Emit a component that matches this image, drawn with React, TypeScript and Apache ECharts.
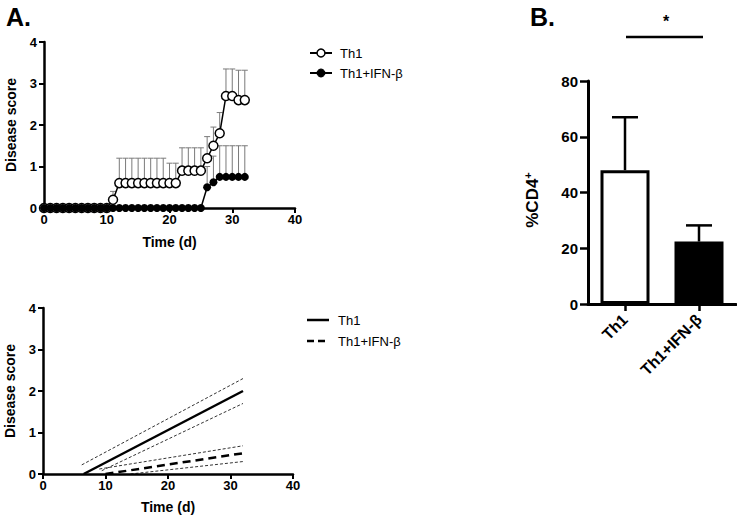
import React, { useEffect, useRef } from "react";
import * as echarts from "echarts";

const FONT = "'Liberation Sans', Arial, sans-serif";

// Panel A (top): daily disease score, days 0..32
const days = Array.from({ length: 33 }, (_, i) => i);
const th1Mean = [0, 0, 0, 0, 0, 0, 0, 0, 0, 0, 0, 0.2, 0.6, 0.6, 0.6, 0.6, 0.6, 0.6, 0.6, 0.6, 0.6, 0.6, 0.9, 0.9, 0.9, 0.9, 1.2, 1.5, 1.8, 2.7, 2.7, 2.6, 2.6];
const th1Upper = [0, 0, 0, 0, 0, 0, 0, 0, 0, 0, 0, 0.4, 1.2, 1.2, 1.2, 1.2, 1.2, 1.2, 1.2, 1.2, 1.08, 1.08, 1.45, 1.45, 1.45, 1.45, 1.72, 1.95, 2.3, 3.35, 3.35, 3.32, 3.32];
const ifnMean = [0, 0, 0, 0, 0, 0, 0, 0, 0, 0, 0, 0, 0, 0, 0, 0, 0, 0, 0, 0, 0, 0, 0, 0, 0, 0, 0.5, 0.62, 0.75, 0.75, 0.75, 0.75, 0.75];
const ifnUpper = [0, 0, 0, 0, 0, 0, 0, 0, 0, 0, 0, 0, 0, 0, 0, 0, 0, 0, 0, 0, 0, 0, 0, 0, 0, 0, 1.0, 1.25, 1.5, 1.5, 1.5, 1.5, 1.5];

// Panel A (bottom): regression lines with confidence bands [day, score]
const th1Fit = [[6.5, 0], [32, 2.0]];
const th1CiUpper = [[6.2, 0.22], [32, 2.3]];
const th1CiLower = [[9.4, 0.08], [32, 1.7]];
const ifnFit = [[10, 0], [32, 0.5]];
const ifnCiUpper = [[9, 0.12], [32, 0.68]];
const ifnCiLower = [[14, 0], [32, 0.3]];

// Panel B: %CD4+
const barCategories = ["Th1", "Th1+IFN-β"];
const barMeans = [48, 22.4];
const barUppers = [67, 28.2];

const timeTicks = [0, 10, 20, 30, 40];
const scoreTicks = [0, 1, 2, 3, 4];
const pctTicks = [0, 20, 40, 60, 80];

function errorBar(capHalf: number, color: string, width: number) {
  return (params: any, api: any) => {
    const x = api.value(0);
    const lo = api.value(1);
    const hi = api.value(2);
    const p0 = api.coord([x, lo]);
    const p1 = api.coord([x, hi]);
    return {
      type: "group",
      children: [
        { type: "line", shape: { x1: p0[0], y1: p0[1], x2: p1[0], y2: p1[1] }, style: { stroke: color, lineWidth: width } },
        { type: "line", shape: { x1: p1[0] - capHalf, y1: p1[1], x2: p1[0] + capHalf, y2: p1[1] }, style: { stroke: color, lineWidth: width } },
      ],
    };
  };
}

const leftAxisCommon = {
  axisLine: { show: true, onZero: false, lineStyle: { color: "#000", width: 2.5 } },
  axisTick: { show: true, length: 5, lineStyle: { color: "#000", width: 2 } },
  splitLine: { show: false },
  nameLocation: "middle",
  nameTextStyle: { color: "#000", fontWeight: "bold", fontSize: 14, fontFamily: FONT },
};

export default function App() {
  const ref = useRef<HTMLDivElement>(null);
  useEffect(() => {
    if (!ref.current) return;
    const chart = echarts.init(ref.current, undefined, { renderer: "svg" });
    const th1Err = days.map((d, i) => [d, th1Mean[i], th1Upper[i]]).filter((r) => r[2] > r[1]);
    const ifnErr = days.map((d, i) => [d, ifnMean[i], ifnUpper[i]]).filter((r) => r[2] > r[1]);
    const barErr = barCategories.map((_, i) => [i, barMeans[i], barUppers[i]]);

    const xLabel = { color: "#000", fontWeight: "bold", fontSize: 13, margin: 5, fontFamily: FONT };
    const yLabel = { color: "#000", fontWeight: "bold", fontSize: 13, margin: 7, fontFamily: FONT };

    const option: any = {
      animation: false,
      backgroundColor: "#fff",
      textStyle: { fontFamily: FONT },
      grid: [
        { left: 44, top: 42, width: 251, height: 166 },
        { left: 43, top: 308, width: 250, height: 166 },
        { left: 588, top: 81, width: 148, height: 223 },
      ],
      xAxis: [
        { ...leftAxisCommon, gridIndex: 0, type: "value", min: timeTicks[0], max: timeTicks[timeTicks.length - 1], interval: 10, axisLabel: xLabel, name: "Time (d)", nameGap: 27 },
        { ...leftAxisCommon, gridIndex: 1, type: "value", min: timeTicks[0], max: timeTicks[timeTicks.length - 1], interval: 10, axisLabel: xLabel, name: "Time (d)", nameGap: 26 },
        {
          gridIndex: 2,
          type: "category",
          data: barCategories,
          axisLine: { show: true, lineStyle: { color: "#000", width: 3 } },
          axisTick: { show: true, alignWithLabel: true, length: 7, lineStyle: { color: "#000", width: 2.5 } },
          axisLabel: { rotate: 45, interval: 0, margin: 13, fontSize: 16, fontWeight: "bold", color: "#000", fontFamily: FONT },
          splitLine: { show: false },
        },
      ],
      yAxis: [
        { ...leftAxisCommon, gridIndex: 0, type: "value", min: scoreTicks[0], max: scoreTicks[scoreTicks.length - 1], interval: 1, axisLabel: yLabel, name: "Disease score", nameGap: 26 },
        { ...leftAxisCommon, gridIndex: 1, type: "value", min: scoreTicks[0], max: scoreTicks[scoreTicks.length - 1], interval: 1, axisLabel: yLabel, name: "Disease score", nameGap: 26 },
        {
          gridIndex: 2,
          type: "value",
          min: pctTicks[0],
          max: pctTicks[pctTicks.length - 1],
          interval: 20,
          axisLine: { show: true, lineStyle: { color: "#000", width: 3 } },
          axisTick: { show: true, length: 8, lineStyle: { color: "#000", width: 2.5 } },
          axisLabel: { color: "#000", fontWeight: "bold", fontSize: 15, margin: 10, fontFamily: FONT },
          splitLine: { show: false },
        },
      ],
      series: [
        { type: "custom", xAxisIndex: 0, yAxisIndex: 0, z: 1, renderItem: errorBar(3, "#7a7a7a", 1), data: th1Err, encode: { x: 0, y: [1, 2] }, clip: false },
        { type: "custom", xAxisIndex: 0, yAxisIndex: 0, z: 1, renderItem: errorBar(3, "#7a7a7a", 1), data: ifnErr, encode: { x: 0, y: [1, 2] }, clip: false },
        {
          type: "line", name: "Th1", xAxisIndex: 0, yAxisIndex: 0, z: 3, clip: false,
          data: days.map((d, i) => [d, th1Mean[i]]),
          symbol: "circle", symbolSize: 9,
          itemStyle: { color: "#fff", borderColor: "#000", borderWidth: 1.5 },
          lineStyle: { color: "#000", width: 1.5 },
        },
        {
          type: "line", name: "Th1+IFN-β", xAxisIndex: 0, yAxisIndex: 0, z: 4, clip: false,
          data: days.map((d, i) => [d, ifnMean[i]]),
          symbol: "circle", symbolSize: 8,
          itemStyle: { color: "#000", borderColor: "#000", borderWidth: 0 },
          lineStyle: { color: "#000", width: 1.5 },
        },
        { type: "line", xAxisIndex: 1, yAxisIndex: 1, data: th1Fit, symbol: "none", lineStyle: { color: "#000", width: 2.5 }, z: 3 },
        { type: "line", xAxisIndex: 1, yAxisIndex: 1, data: th1CiUpper, symbol: "none", lineStyle: { color: "#000", width: 0.8, type: [3, 2] } },
        { type: "line", xAxisIndex: 1, yAxisIndex: 1, data: th1CiLower, symbol: "none", lineStyle: { color: "#000", width: 0.8, type: [3, 2] } },
        { type: "line", xAxisIndex: 1, yAxisIndex: 1, data: ifnFit, symbol: "none", lineStyle: { color: "#000", width: 2.5, type: [8, 5] }, z: 3 },
        { type: "line", xAxisIndex: 1, yAxisIndex: 1, data: ifnCiUpper, symbol: "none", lineStyle: { color: "#000", width: 0.8, type: [3, 2] } },
        { type: "line", xAxisIndex: 1, yAxisIndex: 1, data: ifnCiLower, symbol: "none", lineStyle: { color: "#000", width: 0.8, type: [3, 2] } },
        {
          type: "bar", xAxisIndex: 2, yAxisIndex: 2, barWidth: 49, z: 2,
          data: barMeans.map((v, i) => ({ value: v, itemStyle: { color: i === 0 ? "#fff" : "#000" } })),
          itemStyle: { borderColor: "#000", borderWidth: 3 },
        },
        { type: "custom", xAxisIndex: 2, yAxisIndex: 2, z: 3, renderItem: errorBar(13, "#000", 2.5), data: barErr, encode: { x: 0, y: [1, 2] } },
      ],
      graphic: [
        { type: "text", x: 6, y: 4, style: { text: "A.", font: `bold 25px ${FONT}`, fill: "#000" } },
        { type: "text", x: 530, y: 4, style: { text: "B.", font: `bold 25px ${FONT}`, fill: "#000" } },
        // top legend
        { type: "line", shape: { x1: 310, y1: 53, x2: 332, y2: 53 }, style: { stroke: "#000", lineWidth: 2 } },
        { type: "circle", shape: { cx: 321, cy: 53, r: 4 }, style: { fill: "#fff", stroke: "#000", lineWidth: 1.5 } },
        { type: "text", x: 340, y: 53, style: { text: "Th1", font: `13px ${FONT}`, fill: "#000", verticalAlign: "middle" } },
        { type: "line", shape: { x1: 310, y1: 73, x2: 332, y2: 73 }, style: { stroke: "#000", lineWidth: 2 } },
        { type: "circle", shape: { cx: 321, cy: 73, r: 4 }, style: { fill: "#000", stroke: "#000", lineWidth: 1 } },
        { type: "text", x: 340, y: 73, style: { text: "Th1+IFN-β", font: `13px ${FONT}`, fill: "#000", verticalAlign: "middle" } },
        // bottom legend
        { type: "line", shape: { x1: 307, y1: 320, x2: 329, y2: 320 }, style: { stroke: "#000", lineWidth: 2.5 } },
        { type: "text", x: 338, y: 320, style: { text: "Th1", font: `13px ${FONT}`, fill: "#000", verticalAlign: "middle" } },
        { type: "line", shape: { x1: 307, y1: 341, x2: 329, y2: 341 }, style: { stroke: "#000", lineWidth: 2.5, lineDash: [7, 4] } },
        { type: "text", x: 338, y: 341, style: { text: "Th1+IFN-β", font: `13px ${FONT}`, fill: "#000", verticalAlign: "middle" } },
        // significance
        { type: "line", shape: { x1: 626, y1: 37, x2: 703, y2: 37 }, style: { stroke: "#000", lineWidth: 2.5 } },
        { type: "text", x: 666, y: 21, style: { text: "*", font: `bold 16px ${FONT}`, fill: "#000", align: "center", verticalAlign: "middle" } },
        // y-axis title panel B
        {
          type: "text", x: 532, y: 200, rotation: Math.PI / 2,
          style: {
            text: "{m|%CD4}{s|+}",
            align: "center", verticalAlign: "middle", fill: "#000",
            rich: {
              m: { fontSize: 17, fontWeight: "bold", fontFamily: FONT, fill: "#000", lineHeight: 20 },
              s: { fontSize: 11, fontWeight: "bold", fontFamily: FONT, fill: "#000", verticalAlign: "top", lineHeight: 20, padding: [0, 0, 8, 0] },
            },
          },
        },
      ],
    };
    chart.setOption(option);
    return () => chart.dispose();
  }, []);
  return <div ref={ref} style={{ position: "absolute", left: 0, top: 0, width: 737, height: 517, background: "#fff" }} />;
}
